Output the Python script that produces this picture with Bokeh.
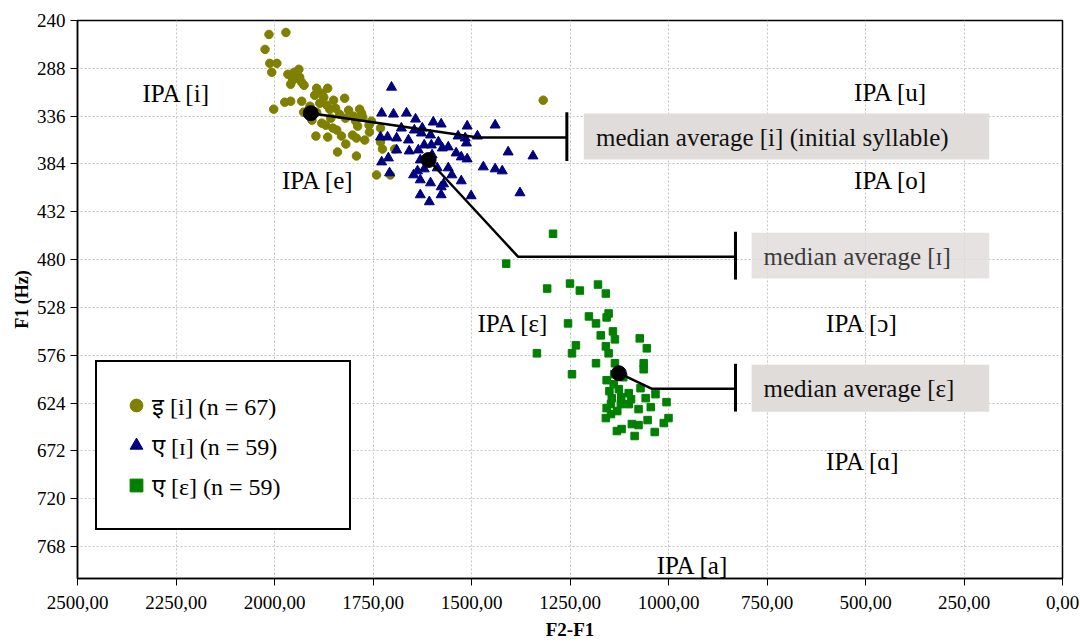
from bokeh.plotting import figure
from bokeh.models import (Range1d, FixedTicker, CustomJSTickFormatter, Legend, LegendItem,
                          ColumnDataSource)
from bokeh.core.properties import value
from bokeh.embed import file_html
from bokeh.resources import INLINE

SERIF = "Liberation Serif"

# ---------------- data ----------------
x_ticks = [0, 250, 500, 750, 1000, 1250, 1500, 1750, 2000, 2250, 2500]
y_ticks = [240, 288, 336, 384, 432, 480, 528, 576, 624, 672, 720, 768]

i_f2f1 = [2014, 1971, 2024, 2012, 1994, 2007, 1966, 1938, 1954, 1931,
          1959, 1943, 1936, 1893, 1865, 1898, 1875, 1822, 1931, 1959,
          1974, 1885, 1867, 2002, 1860, 1845, 1812, 1784, 1926, 1893,
          1835, 1779, 1857, 1776, 1754, 1880, 1852, 1842, 1789, 1794,
          1802, 1759, 1895, 1865, 1792, 1771, 1819, 1840, 1792, 1731,
          1731, 1726, 1695, 1741, 1706, 1318,
          1880, 1910, 1850, 1820, 1870, 1950, 1925, 1800, 1760, 1905, 1830]
i_f1 = [254, 252, 269, 283, 283, 292, 294, 289, 300, 302,
        304, 298, 297, 308, 308, 315, 317, 318, 321, 321,
        322, 323, 325, 329, 329, 328, 330, 329, 332, 332,
        334, 333, 338, 337, 341, 343, 348, 350, 346, 341,
        355, 352, 356, 357, 358, 360, 364, 372, 376, 348,
        362, 369, 369, 395, 395, 320,
        313, 326, 320, 338, 345, 292, 305, 336, 345, 340, 356]

I_f2f1 = [1703, 1728, 1698, 1665, 1642, 1678, 1625, 1597, 1577, 1511,
          1440, 1627, 1604, 1731, 1713, 1690, 1584, 1534, 1516, 1513,
          1485, 1620, 1602, 1574, 1559, 1658, 1635, 1690, 1407, 1344,
          1711, 1728, 1539, 1526, 1511, 1630, 1587, 1559, 1470, 1440,
          1422, 1637, 1620, 1708, 1647, 1630, 1604, 1526, 1571, 1577,
          1630, 1577, 1501, 1377, 1607, 1660, 1600, 1550, 1645]
I_f1 = [307, 333, 334, 333, 339, 348, 348, 342, 344, 346,
        345, 353, 355, 357, 357, 358, 362, 356, 358, 363,
        356, 365, 365, 368, 367, 371, 370, 370, 372, 376,
        378, 382, 373, 377, 379, 380, 388, 388, 387, 389,
        391, 391, 389, 393, 395, 400, 403, 401, 404, 407,
        415, 415, 416, 413, 422, 360, 375, 395, 350]

E_f2f1 = [1293, 1412, 1308, 1250, 1225, 1179, 1159, 1255, 1202, 1184,
          1157, 1152, 1172, 1141, 1136, 1235, 1245, 1334, 1159, 1152,
          1073, 1055, 1184, 1136, 1063, 1063, 1245, 1157, 1139, 1126,
          1101, 1071, 1033, 1144, 1058, 1005, 1146, 1121, 1101, 1045,
          1157, 1076, 1146, 1159, 1000, 1012, 1053, 1093, 1076, 1119,
          1131, 1035, 1086, 1138, 1115, 1150, 1120, 1095, 1130]
E_f1 = [454, 484, 509, 504, 511, 505, 514, 544, 537, 544,
        538, 534, 556, 552, 560, 566, 574, 574, 567, 574,
        559, 569, 584, 584, 584, 590, 595, 601, 605, 610,
        614, 609, 615, 619, 619, 623, 625, 625, 625, 628,
        629, 630, 635, 639, 639, 644, 641, 645, 646, 650,
        652, 653, 657, 595, 598, 612, 618, 620, 632]

median_f2f1 = [1908, 1609, 1126]
median_f1 = [333, 380, 594]

# callout elbows (after the median point) and end bars
elbow_f2f1 = [1483, 1382, 1043]
elbow_f1 = [357.5, 477, 609.5]
bar_f2f1 = [1258, 830, 830]
bar_f1_top = [332, 452, 584.5]
bar_f1_bottom = [381, 500, 632.5]

note_texts = ["median average [i] (initial syllable)", "median average [ɪ]", "median average [ɛ]"]
note_left = [1215, 789, 789]
note_right = [186, 186, 186]
note_top = [333.4, 453, 585.5]
note_bottom = [379.6, 499, 632.6]
note_text_x = [1184, 759, 759]
note_text_y = [357.5, 477, 609.5]
note_alpha = [1.0, 0.82, 1.0]
note_color = ["#111111", "#3c3c3c", "#111111"]

ipa_texts = ["IPA [i]", "IPA [u]", "IPA [e]", "IPA [o]", "IPA [ɛ]", "IPA [ɔ]", "IPA [ɑ]", "IPA [a]"]
ipa_x = [2335, 529, 1981, 529, 1485, 600, 600, 1030]
ipa_y = [313, 312, 401, 401, 544, 544, 683, 787]

legend_labels = ["इ [i] (n = 67)", "ए [ɪ] (n = 59)", "ए [ɛ] (n = 59)"]

OLIVE = "#808000"
NAVY = "#000080"
GREEN = "#008000"

# ---------------- figure ----------------
p = figure(width=1080, height=643, output_backend="svg", toolbar_location=None,
           x_range=Range1d(2500, 0), y_range=Range1d(800, 240),
           min_border_left=77, min_border_right=18, min_border_top=20, min_border_bottom=65)
p.background_fill_color = "white"
p.border_fill_color = "white"
p.outline_line_color = "black"
p.outline_line_width = 1.5

p.xaxis.ticker = FixedTicker(ticks=x_ticks)
p.yaxis.ticker = FixedTicker(ticks=y_ticks)
p.xaxis.formatter = CustomJSTickFormatter(code="return tick.toFixed(2).replace('.', ',');")
for ax in (p.xaxis[0], p.yaxis[0]):
    ax.major_tick_out = 7
    ax.major_tick_in = 0
    ax.minor_tick_out = 0
    ax.minor_tick_in = 0
    ax.axis_line_width = 1.5
    ax.axis_line_color = "black"
    ax.major_tick_line_color = "black"
    ax.major_label_text_font = SERIF
    ax.major_label_text_color = "black"
    ax.axis_label_text_font = SERIF
    ax.axis_label_text_font_style = "bold"
    ax.axis_label_text_color = "black"
p.xaxis.major_label_text_font_size = "19px"
p.yaxis.major_label_text_font_size = "19px"
p.xaxis.major_label_standoff = 10
p.xaxis.axis_label = "F2-F1"
p.yaxis.axis_label = "F1 (Hz)"
p.xaxis.axis_label_text_font_size = "19px"
p.yaxis.axis_label_text_font_size = "18px"
p.xaxis.axis_label_standoff = 7
p.yaxis.axis_label_standoff = 2

p.grid.grid_line_color = "#c4c4c4"
p.grid.grid_line_dash = "2 2"
p.grid.grid_line_width = 1

# annotation boxes
note_src = ColumnDataSource(dict(left=note_left, right=note_right, top=note_top, bottom=note_bottom,
                                 alpha=note_alpha, tx=note_text_x, ty=note_text_y,
                                 text=note_texts, color=note_color))
p.quad(left="left", right="right", top="top", bottom="bottom", fill_color="#e0dcda",
       fill_alpha="alpha", line_color=None, source=note_src)

# data series
r_i = p.scatter(i_f2f1, i_f1, marker="circle", size=8.5, fill_color=OLIVE, line_color=OLIVE)
r_I = p.scatter(I_f2f1, I_f1, marker="triangle", size=10, fill_color=NAVY, line_color=NAVY)
r_E = p.scatter(E_f2f1, E_f1, marker="square", size=7.5, fill_color=GREEN, line_color=GREEN)

# callouts
xs = [[mx, ex, bx] for mx, ex, bx in zip(median_f2f1, elbow_f2f1, bar_f2f1)]
ys = [[my, ey, ey] for my, ey in zip(median_f1, elbow_f1)]
p.multi_line(xs=xs, ys=ys, line_color="black", line_width=2.5)
p.segment(x0=bar_f2f1, y0=bar_f1_top, x1=bar_f2f1, y1=bar_f1_bottom, line_color="black", line_width=3)
p.scatter(median_f2f1, median_f1, marker="circle", size=15, fill_color="black", line_color="black")

# texts
p.text(x="tx", y="ty", text="text", source=note_src, text_font=value(SERIF),
       text_font_size=value("25px"), text_color="color", text_baseline="middle", text_align="left")
p.text(x=ipa_x, y=ipa_y, text=ipa_texts, text_font=value(SERIF), text_font_size=value("25px"),
       text_color="black", text_baseline="middle", text_align="left")

legend = Legend(items=[LegendItem(label=legend_labels[0], renderers=[r_i]),
                       LegendItem(label=legend_labels[1], renderers=[r_I]),
                       LegendItem(label=legend_labels[2], renderers=[r_E])],
                location=(18, 48))
legend.border_line_color = "black"
legend.border_line_alpha = 1
legend.border_line_width = 2
legend.background_fill_color = "white"
legend.background_fill_alpha = 1
legend.padding = 23
legend.spacing = 0
legend.margin = 0
legend.glyph_width = 32
legend.glyph_height = 32
legend.label_height = 40
legend.label_width = 174
legend.label_standoff = 0
legend.label_text_font = SERIF
legend.label_text_font_size = "24px"
legend.label_text_color = "black"
p.add_layout(legend)

open("out.html", "w").write(file_html(p, INLINE))
